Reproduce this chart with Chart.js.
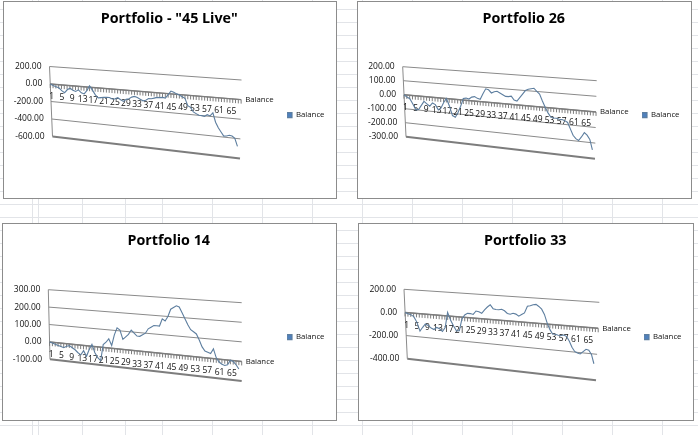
<!DOCTYPE html>
<html>
<head>
<meta charset="utf-8">
<script src="https://cdn.jsdelivr.net/npm/chart.js@4"></script>
<style>
  html, body { margin: 0; padding: 0; background: #fff; overflow: hidden; }
  #sheet { position: absolute; left: 0; top: 0; width: 698px; height: 435px; overflow: hidden; }
  .rule { position: absolute; background: #e2e4e8; }
  .panel { position: absolute; background: #fff; border: 1px solid #8c8c8c; box-sizing: border-box; }
  .panel canvas { display: block; }
</style>
</head>
<body>
<div id="sheet"></div>
<script>
// every category on the axis, the last one has no value (Excel leaves it empty)
const categories = [];
for (let n = 1; n <= 69; n++) categories.push(String(n));

const balance45 = [0, -15, -25, -35, -65, -85, -50, -30, -50, -60, -40, -70, -80, -40, 15, -30, -80,
  -110, -105, -100, -95, -95, -110, -105, -90, -110, -125, -100, -90, -70, -60, -70, -85, -100, -90,
  -70, -70, -60, -50, -50, -45, -50, -10, 30, 20, 5, -5, -20, -35, -110, -125, -170, -185, -200, -200,
  -205, -185, -195, -160, -255, -310, -350, -390, -385, -375, -380, -400, -480];
const balance26 = [0, -15, -25, -60, -100, -95, -65, -35, -50, -65, -40, -50, -85, -70, -30, 0, -50,
  -115, -125, -90, -45, 10, 15, 10, 25, 30, 20, 15, 55, 90, 85, 65, 75, 80, 70, 60, 50, 50, 55, 30, 25,
  50, 75, 100, 110, 115, 120, 100, 85, 40, 0, -35, -60, -65, -65, -70, -70, -75, -85, -125, -165, -185,
  -195, -170, -140, -155, -180, -245];
const balance14 = [0, -5, -10, -15, -20, -25, -15, -10, -20, -30, -45, -55, -30, -60, -20, 10, -35, -60,
  -75, 15, 30, 50, 15, 75, 115, 105, 55, 70, 85, 110, 95, 80, 80, 90, 100, 125, 135, 145, 145, 145, 185,
  175, 200, 240, 250, 260, 255, 225, 195, 165, 140, 130, 120, 90, 55, 35, 30, 25, 50, 5, -15, -25, -30,
  -25, 0, -5, -20, -40];
const balance33 = [0, -10, -15, -30, -75, -150, -115, -85, -95, -115, -125, -105, -115, -135, -100, 30,
  -35, -80, -120, -115, -15, 20, 35, 35, 30, 60, 55, 45, 75, 100, 120, 90, 85, 85, 90, 80, 60, 55, 65,
  60, 45, 60, 75, 130, 135, 145, 150, 135, 115, 75, 10, -40, -75, -75, -80, -80, -75, -85, -120, -165,
  -195, -205, -210, -190, -170, -175, -205, -275];

const seriesName = "Balance";
const columnRules = [32, 38, 82, 125, 162, 212, 262, 312, 362, 412, 462, 512, 562, 612, 662];

const sheet = document.getElementById("sheet");

// the worksheet cells behind the charts
columnRules.forEach(x => {
  const r = document.createElement("div");
  r.className = "rule";
  r.style.cssText = `left:${x}px;top:0;width:1px;height:435px`;
  sheet.appendChild(r);
});
for (let y = 9; y < 435; y += 13) {
  const r = document.createElement("div");
  r.className = "rule";
  r.style.cssText = `left:0;top:${y}px;width:698px;height:1px`;
  sheet.appendChild(r);
}

const lerp = (a, b, t) => a + (b - a) * t;

// Chart.js has no 3D line, so bend the plain scales onto the slanted Excel wall
function slantPlugin(box, wall) {
  const project = (chart, px, py) => {
    const a = chart.chartArea;
    const u = (px - a.left) / (a.right - a.left);
    const v = (py - a.top) / (a.bottom - a.top);
    const topX = lerp(wall.tl[0], wall.tr[0], u), topY = lerp(wall.tl[1], wall.tr[1], u);
    const botX = lerp(wall.bl[0], wall.br[0], u), botY = lerp(wall.bl[1], wall.br[1], u);
    return [lerp(topX, botX, v) - box.x - 1, lerp(topY, botY, v) - box.y - 1];
  };
  return {
    id: "slant",
    afterDatasetsUpdate(chart) {
      chart.getDatasetMeta(0).data.forEach(p => {
        const q = project(chart, p.x, p.y);
        p.x = q[0];
        p.y = q[1];
      });
    },
    beforeDatasetsDraw(chart) {
      const { ctx, chartArea: a, scales: { x, y } } = chart;
      ctx.save();

      // side wall line
      const s0 = project(chart, a.left, a.top), s1 = project(chart, a.left, a.bottom);
      ctx.strokeStyle = "#8a8a8a";
      ctx.lineWidth = 1;
      ctx.beginPath();
      ctx.moveTo(s0[0], s0[1]);
      ctx.lineTo(s1[0], s1[1]);
      ctx.stroke();

      // gridlines and value labels
      ctx.font = '8.5px "Open Sans"';
      ctx.fillStyle = "#111";
      ctx.textAlign = "right";
      ctx.textBaseline = "middle";
      y.ticks.forEach(t => {
        const py = y.getPixelForValue(t.value);
        const floor = t.value === y.min;
        const p0 = project(chart, a.left, py), p1 = project(chart, a.right, py);
        ctx.strokeStyle = floor ? "#7d7d7d" : "#8a8a8a";
        ctx.lineWidth = floor ? 2 : 1;
        ctx.beginPath();
        ctx.moveTo(p0[0], p0[1]);
        ctx.lineTo(p1[0], p1[1]);
        ctx.stroke();
        ctx.fillText(t.value.toFixed(2), p0[0] - 8, p0[1]);
      });

      // category axis sits on zero
      const zero = y.getPixelForValue(0);
      const z0 = project(chart, a.left, zero), z1 = project(chart, a.right, zero);
      ctx.strokeStyle = "#7d7d7d";
      ctx.lineWidth = 1.5;
      ctx.beginPath();
      ctx.moveTo(z0[0], z0[1]);
      ctx.lineTo(z1[0], z1[1]);
      ctx.stroke();

      ctx.lineWidth = 1;
      ctx.textAlign = "center";
      x.ticks.forEach((t, i) => {
        const q = project(chart, x.getPixelForTick(i), zero);
        ctx.beginPath();
        ctx.moveTo(q[0], q[1]);
        ctx.lineTo(q[0], q[1] + 4);
        ctx.stroke();
        if (i % 4 === 0 && i <= 64) {
          // Excel's labels bunch up on the near side of the perspective
          const s = i / 64;
          const bunch = 18 * s * (1 - s);
          ctx.fillText(x.getLabelForValue(t.value), q[0] + 1.5 - bunch, q[1] + 13);
        }
      });

      // series name at the end of the axis
      ctx.font = '7.8px "Open Sans"';
      ctx.textAlign = "left";
      ctx.fillText(chart.data.datasets[0].label, z1[0] + 4, z1[1]);
      ctx.restore();
    }
  };
}

function addPanel(title, values, box, wall, min, max, step) {
  const panel = document.createElement("div");
  panel.className = "panel";
  panel.style.cssText = `left:${box.x}px;top:${box.y}px;width:${box.w}px;height:${box.h}px`;
  const canvas = document.createElement("canvas");
  canvas.width = box.w - 2;
  canvas.height = box.h - 2;
  panel.appendChild(canvas);
  sheet.appendChild(panel);

  new Chart(canvas.getContext("2d"), {
    type: "line",
    data: {
      labels: categories,
      datasets: [{
        label: seriesName,
        data: values,
        borderColor: "#5d7e9f",
        backgroundColor: "#4f81bd",
        borderWidth: 1.1,
        pointRadius: 0,
        tension: 0,
        clip: false
      }]
    },
    options: {
      responsive: false,
      animation: false,
      // the legend hangs from the bottom padding, the wall itself comes from slantPlugin
      layout: { padding: { top: 0, right: 1.5, bottom: 79, left: 0 } },
      scales: {
        x: { display: false, offset: false, ticks: { autoSkip: false } },
        y: { display: false, min, max, ticks: { stepSize: step, autoSkip: false } }
      },
      plugins: {
        title: {
          display: true,
          text: title,
          color: "#000",
          font: { family: "Open Sans", size: 14.3, weight: "bold" },
          padding: { top: 8, bottom: 12 }
        },
        legend: {
          position: "right",
          align: "end",
          labels: {
            boxWidth: 5,
            boxHeight: 5,
            padding: 0,
            color: "#111",
            font: { family: "Open Sans", size: 7.8 }
          }
        },
        tooltip: { enabled: false }
      }
    },
    plugins: [slantPlugin(box, wall)]
  });
}

addPanel('Portfolio - "45 Live"', balance45,
  { x: 3, y: 1, w: 334, h: 198 },
  { tl: [49.5, 66.5], tr: [241.5, 80], bl: [52.5, 136.5], br: [240, 158.5] }, -600, 200, 200);
addPanel("Portfolio 26", balance26,
  { x: 357, y: 1, w: 335, h: 198 },
  { tl: [402.7, 66.7], tr: [596.7, 80.7], bl: [406, 136.7], br: [595, 158.7] }, -300, 200, 100);
addPanel("Portfolio 14", balance14,
  { x: 2, y: 223, w: 335, h: 198 },
  { tl: [48.3, 289.7], tr: [241.7, 302.7], bl: [50, 359.3], br: [241.7, 381] }, -100, 300, 100);
addPanel("Portfolio 33", balance33,
  { x: 358, y: 223, w: 336, h: 198 },
  { tl: [404, 289.3], tr: [599.3, 302.3], bl: [407.3, 358.7], br: [596, 380.3] }, -400, 200, 200);
</script>
</body>
</html>
